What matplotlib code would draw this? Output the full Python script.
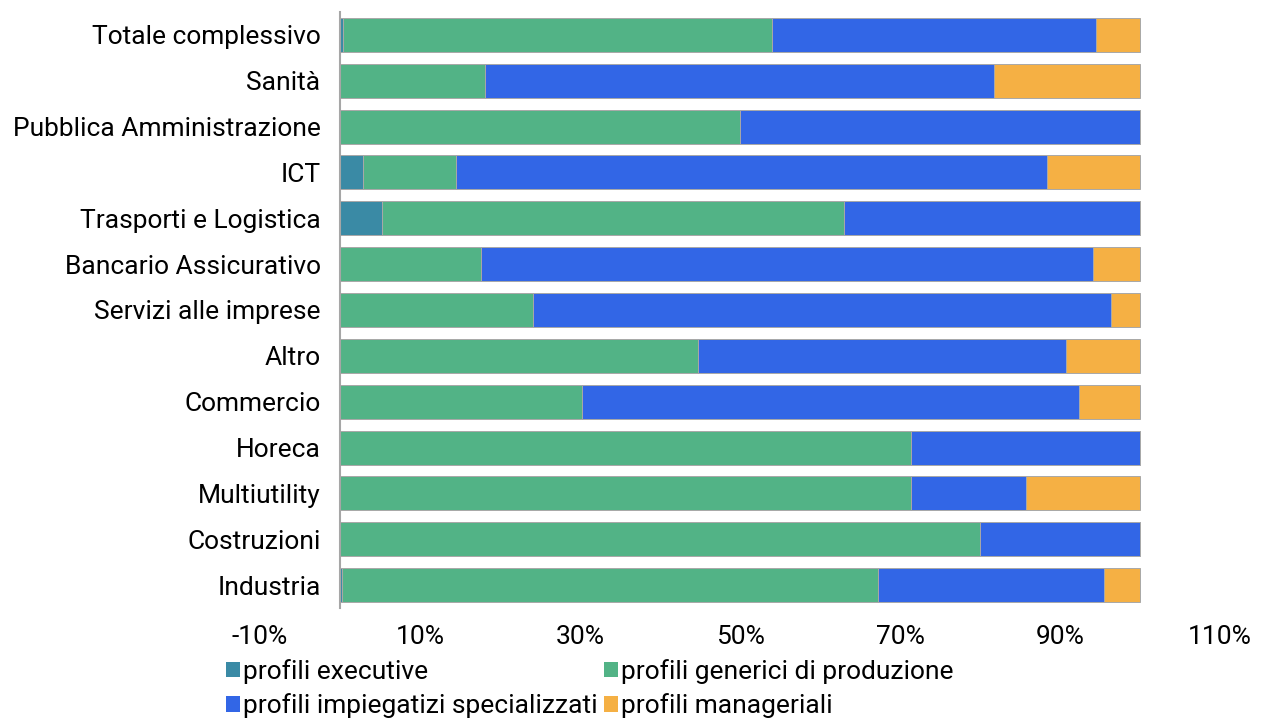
import matplotlib
matplotlib.use("Agg")
import matplotlib.pyplot as plt
import numpy as np
from matplotlib.patches import Patch
from matplotlib.ticker import FuncFormatter

plt.rcParams['font.family'] = ['Roboto', 'DejaVu Sans']

categories = [
    "Totale complessivo", "Sanità", "Pubblica Amministrazione", "ICT",
    "Trasporti e Logistica", "Bancario Assicurativo", "Servizi alle imprese",
    "Altro", "Commercio", "Horeca", "Multiutility", "Costruzioni", "Industria",
]
# shares in percent, one value per category
executive    = [0.4, 0.0, 0.0, 2.9, 5.2, 0.0, 0.0, 0.0, 0.0, 0.0, 0.0, 0.0, 0.3]
generici     = [53.6, 18.1, 50.0, 11.6, 57.8, 17.6, 24.1, 44.7, 30.3, 71.4, 71.4, 80.0, 67.0]
impiegatizi  = [40.5, 63.7, 50.0, 73.9, 37.0, 76.5, 72.3, 46.1, 62.1, 28.6, 14.3, 20.0, 28.2]
manageriali  = [5.5, 18.2, 0.0, 11.6, 0.0, 5.9, 3.6, 9.2, 7.6, 0.0, 14.3, 0.0, 4.5]

series_names = ["profili executive", "profili generici di produzione",
                "profili impiegatizi specializzati", "profili manageriali"]
colors = ["#3A8AA5", "#52B386", "#3266E6", "#F5B044"]
xticks = [-10, 10, 30, 50, 70, 90, 110]

FS = 19

fig = plt.figure(figsize=(12.65, 7.18), dpi=100)
ax = fig.add_axes([260 / 1265, 1 - 608 / 718, 960 / 1265, 596 / 718])

y = np.arange(len(categories))
left = np.zeros(len(categories))
for vals, col in zip([executive, generici, impiegatizi, manageriali], colors):
    v = np.array(vals, dtype=float)
    ax.barh(y, v, left=left, height=0.74, color=col,
            edgecolor="#a8a8a8", linewidth=0.7)
    left += v

ax.set_xlim(-10, 110)
ax.set_ylim(len(categories) - 0.5, -0.5)
ax.set_xticks(xticks)
ax.xaxis.set_major_formatter(FuncFormatter(lambda v, p: f"{v:.0f}%"))
ax.set_yticks(y)
ax.set_yticklabels(categories)

for s in ["top", "right", "bottom"]:
    ax.spines[s].set_visible(False)
ax.spines["left"].set_position(("data", 0))
ax.spines["left"].set_color("#a6a6a6")
ax.spines["left"].set_linewidth(1.5)
ax.tick_params(axis="both", length=0, labelsize=FS, colors="#000000")
ax.tick_params(axis="y", pad=14)
ax.tick_params(axis="x", pad=12)

handles = [Patch(facecolor=c, edgecolor="none") for c in colors]
order = [0, 2, 1, 3]
fig.legend([handles[i] for i in order], [series_names[i] for i in order],
           ncol=2, loc="upper left", bbox_to_anchor=(226 / 1265, 1 - 659 / 718),
           frameon=False, fontsize=FS, handlelength=0.52, handleheight=0.52,
           handletextpad=0.12, columnspacing=0.25, labelspacing=0.36,
           borderaxespad=0, borderpad=0)

fig.savefig("out.png", dpi=100)
